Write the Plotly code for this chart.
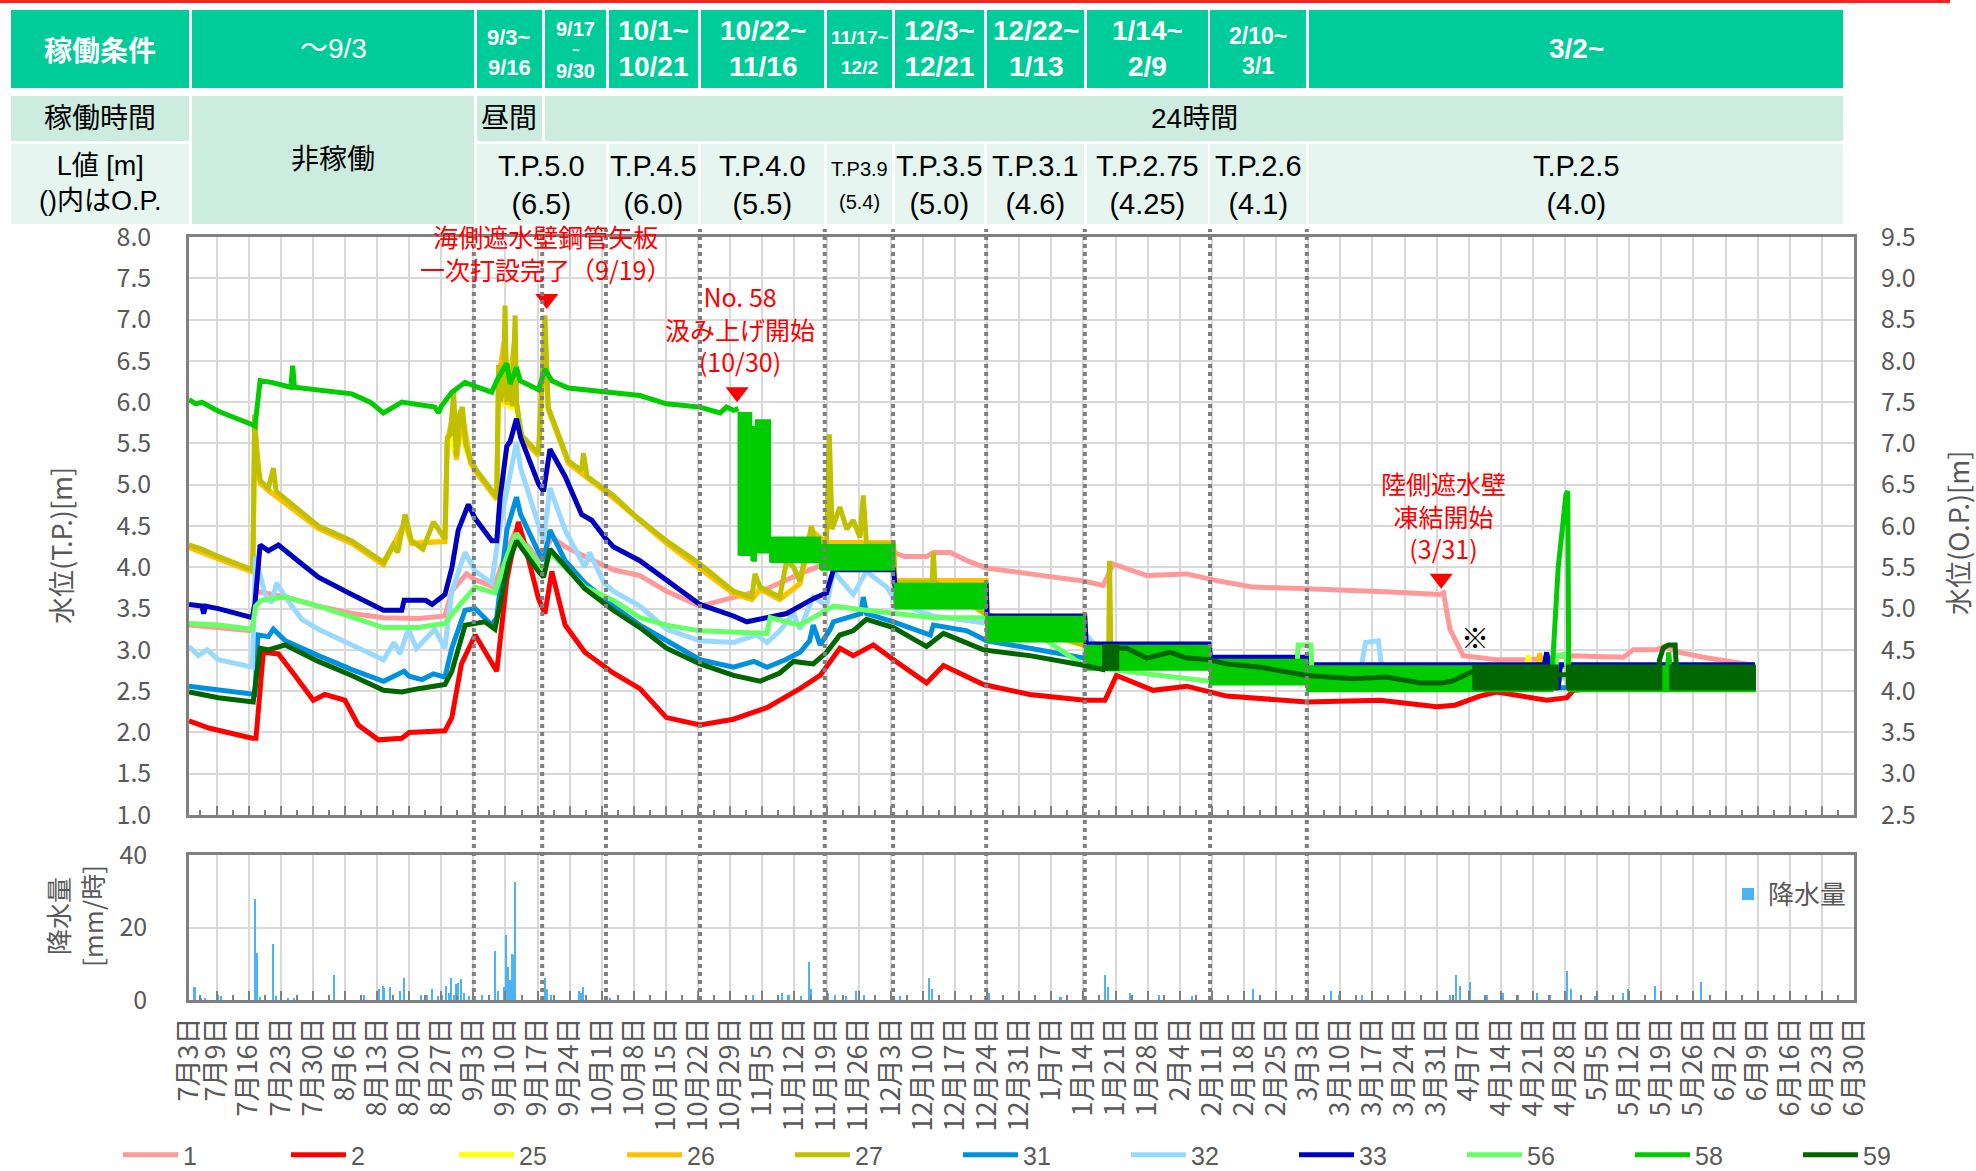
import pandas as pd
import plotly.graph_objects as go

W, H = 1976, 1171
T0 = pd.Timestamp("2015-07-03")
X_END = pd.Timestamp("2016-06-30")

# ---------------------------------------------------------------------------
# Groundwater level series (T.P. m).  x = days elapsed since 2015-07-03.
# ---------------------------------------------------------------------------
S1_DAY = [0, 7, 13.8, 14.6, 17, 21, 28.2, 35.5, 42.4, 50, 55.8, 57.3, 60.5, 62.4, 66.5, 69.3, 71, 74, 76.2, 77.4,
          79.1, 82, 86.3, 92.5, 98.3, 104.1, 111.4, 118.7, 126, 133.2, 139, 146, 153.6, 156, 160.8, 162.3, 166, 169.6,
          173.9, 183.3, 195.3, 199.3, 201.5, 208.8, 217.5, 224.8, 232, 243.7, 253.8, 262, 272.7, 273.5, 274.9, 277.8,
          285.1, 292.3, 301, 312.7, 314.9, 320, 321.4, 325, 330.1, 335.9, 341.4]
S1_VAL = [3.30, 3.27, 3.23, 3.71, 3.68, 3.64, 3.53, 3.44, 3.39, 3.38, 3.41, 3.71, 3.92, 3.85, 3.76, 4.2, 4.42, 4.25,
          4.08, 4.18, 4.36, 4.25, 4.13, 3.97, 3.90, 3.71, 3.53, 3.64, 3.74, 3.92, 4.05, 4.15, 4.18, 4.13, 4.13, 4.18,
          4.18, 4.08, 3.99, 3.92, 3.83, 3.78, 4.04, 3.90, 3.92, 3.83, 3.76, 3.74, 3.71, 3.70, 3.67, 3.69, 3.25, 2.93,
          2.88, 2.88, 2.93, 2.91, 3.00, 3.00, 3.04, 2.97, 2.91, 2.86, 2.81]

S2_DAY = [0, 2.8, 4.5, 13.8, 14.6, 16.2, 19.5, 23.1, 27.1, 29.6, 34, 36.9, 41.3, 46.4, 48, 55.8, 57.3, 59.4, 62.4,
          67.1, 69.3, 71.8, 73, 76.2, 77.6, 79.1, 82, 86.3, 92.5, 98.3, 104.1, 111.4, 118.7, 126, 133.2, 137.6, 141.9,
          144.8, 149.2, 153.6, 160.8, 164.5, 173.2, 183.3, 195.3, 199.7, 202.2, 210.2, 217.5, 226.2, 243.7, 259.7,
          272, 276, 281.4, 285.1, 290.9, 296, 300.4, 301.8, 310, 341.4]
S2_VAL = [2.14, 2.09, 2.05, 1.93, 1.93, 2.97, 2.95, 2.69, 2.39, 2.46, 2.39, 2.09, 1.91, 1.93, 2.0, 2.02, 2.18, 2.83,
          3.18, 2.74, 3.85, 4.55, 4.32, 3.62, 3.44, 3.95, 3.30, 2.97, 2.72, 2.53, 2.18, 2.09, 2.16, 2.30, 2.53, 2.69,
          3.02, 2.93, 3.06, 2.88, 2.60, 2.81, 2.58, 2.46, 2.39, 2.39, 2.69, 2.51, 2.56, 2.44, 2.37, 2.39, 2.31, 2.33,
          2.44, 2.49, 2.44, 2.39, 2.42, 2.51, 2.55, 2.55]

S25_DAY = [0, 6.4, 13.9, 14.4, 15.5, 17.3, 28.2, 35.5, 42.4, 47.1, 48.5, 55.8, 56.3, 57.0, 58.3, 59.0, 60.3, 61.4, 63,
           67.1, 67.5, 68.0, 69.3, 70.5, 71.4, 72.5, 76.2, 77.6, 78.3, 82.7, 92.5, 104.1, 118.7, 122.7, 124.5, 128.8,
           133.2, 135.7, 139.0, 147.7, 153.6, 153.9, 173.8, 174.0, 195.3, 222.4, 243.7, 291.6, 292.0, 292.5, 341.4]
S25_VAL = [4.25, 4.11, 3.95, 5.6, 5.03, 4.94, 4.48, 4.30, 4.04, 4.5, 4.30, 4.32, 5.5, 5.58, 5.32, 5.8, 5.45, 5.27,
           5.13, 4.83, 6.35, 5.98, 5.98, 5.93, 5.98, 5.58, 5.36, 6.8, 5.92, 5.27, 4.85, 4.30, 3.69, 3.62, 3.74, 3.62,
           3.81, 4.45, 4.28, 4.27, 4.27, 3.81, 3.81, 3.41, 3.05, 2.87, 2.80, 2.80, 2.93, 2.80, 2.80]

S26_DAY = [0, 6.4, 13.9, 14.4, 15.5, 17.3, 28.2, 35.5, 42.4, 47.1, 48.5, 55.8, 56.3, 57.7, 58.3, 59.6, 61.4, 63, 67.1,
           67.5, 68.9, 69.3, 71.1, 71.4, 72.5, 76.2, 77.6, 78.3, 82.7, 92.5, 104.1, 118.7, 122.7, 124.5, 128.8, 133.2,
           135.7, 139.0, 147.7, 153.6, 153.9, 173.8, 174.0, 195.3, 222.4, 243.7, 294.0, 294.5, 295.0, 341.4]
S26_VAL = [4.24, 4.10, 3.94, 5.7, 5.02, 4.93, 4.47, 4.29, 4.03, 4.55, 4.29, 4.31, 5.52, 5.9, 5.30, 5.85, 5.26, 5.12,
           4.82, 6.3, 6.8, 5.97, 6.8, 5.97, 5.57, 5.35, 6.9, 5.91, 5.26, 4.84, 4.29, 3.68, 3.61, 3.73, 3.61, 3.80, 4.44,
           4.30, 4.30, 4.30, 3.84, 3.84, 3.43, 3.06, 2.88, 2.80, 2.80, 2.96, 2.80, 2.80]

S27_DAY = [0, 2.8, 6.4, 13.9, 14.3, 14.8, 15.5, 17.3, 18.4, 19.0, 28.2, 35.5, 42.4, 43.5, 44.5, 45.5, 47.1, 48.5, 51,
           53.3, 55.8, 56.3, 57.0, 57.7, 58.3, 59.0, 59.6, 60.3, 61.4, 63, 67.1, 67.5, 68.0, 68.6, 68.9, 69.3, 69.8,
           70.5, 71.1, 71.4, 72.5, 76.2, 77.6, 78.3, 82.7, 85.6, 86.0, 86.8, 92.5, 96.9, 104.1, 111.4, 118.7, 122.7,
           123.4, 124.5, 128.8, 130.3, 131.8, 133.2, 134.7, 135.7, 136.6, 139.0, 139.6, 140.2, 141.9, 143.4, 144.8,
           146.3, 147.0, 147.7, 153.6, 153.9, 162.0, 162.3, 162.6, 173.8, 174.0, 195.3, 200.5, 200.7, 201.0, 222.4,
           243.7, 341.4]
S27_VAL = [4.27, 4.22, 4.13, 3.97, 5.85, 5.29, 5.05, 4.96, 5.20, 4.92, 4.50, 4.32, 4.06, 4.18, 4.27, 4.18, 4.64,
           4.32, 4.22, 4.55, 4.34, 5.57, 5.61, 6.12, 5.34, 5.85, 5.94, 5.5, 5.29, 5.15, 4.85, 6.45, 6.0, 6.3, 7.17,
           6.0, 6.3, 5.95, 7.05, 6.0, 5.6, 5.38, 7.05, 5.94, 5.29, 5.17, 5.38, 5.10, 4.87, 4.64, 4.32, 4.04, 3.71,
           3.64, 3.92, 3.76, 3.64, 4.08, 4.0, 3.83, 4.22, 4.50, 4.30, 4.30, 5.61, 4.46, 4.73, 4.46, 4.57, 4.36, 4.87,
           4.28, 4.28, 3.82, 3.82, 4.18, 3.82, 3.42, 3.42, 3.05, 2.95, 4.08, 2.95, 2.88, 2.80, 2.80]

S31_DAY = [0, 6.4, 13.8, 14.4, 15.0, 17.3, 18.4, 21, 28.2, 35.5, 42.4, 44.3, 46.9, 48, 50.8, 53.3, 55.8, 57.3, 60.2,
           62.4, 66.0, 67.1, 69.3, 71.4, 72.3, 76.2, 77.3, 78.7, 82.0, 86.3, 92.5, 98.3, 104.1, 111.4, 118.7, 123.2,
           126.0, 130.0, 133.2, 135.3, 136.1, 137.6, 139.8, 140.5, 146.5, 147.0, 147.7, 153.6, 161.6, 162.3, 169.6,
           173.9, 183.3, 195.3, 210, 222.4, 243.7, 270, 341.4]
S31_VAL = [2.56, 2.51, 2.46, 2.46, 3.18, 3.16, 3.25, 3.11, 2.93, 2.76, 2.62, 2.67, 2.74, 2.68, 2.64, 2.71, 2.67, 3.02,
           3.48, 3.50, 3.30, 3.39, 4.45, 4.85, 4.64, 4.18, 4.08, 4.45, 4.08, 3.81, 3.53, 3.30, 3.11, 2.88, 2.79, 2.86,
           2.79, 2.88, 2.97, 3.11, 3.30, 3.06, 3.25, 3.34, 3.44, 3.64, 3.44, 3.34, 3.18, 3.30, 3.23, 3.11, 3.02, 2.90,
           2.85, 2.78, 2.62, 2.55, 2.53]

S32_DAY = [0, 2, 4, 6.4, 13.8, 14.5, 16.6, 18.0, 19.1, 21, 24.6, 28.2, 35.5, 42.4, 44.7, 46.0, 47.8, 49.6, 53.6, 55.8,
           57.3, 60.2, 62.4, 66.0, 67.8, 69.6, 71.4, 72.3, 76.2, 77.3, 78.7, 82.0, 86.3, 87.3, 90.5, 92.5, 98.3, 104.1,
           111.4, 118.7, 123.8, 126.0, 128.8, 131.8, 133.2, 136.1, 139.0, 140.5, 144.8, 147.7, 152.1, 154.3, 162.3,
           173.2, 183.3, 195.3, 200, 222.4, 243.7, 255.6, 256.5, 259.3, 260.0, 270, 341.4]
S32_VAL = [3.04, 2.93, 3.0, 2.88, 2.79, 4.13, 3.67, 3.57, 3.81, 3.64, 3.37, 3.25, 3.06, 2.88, 3.09, 2.95, 3.25, 3.02,
           3.25, 3.02, 3.71, 4.18, 3.95, 3.81, 4.50, 5.01, 5.52, 5.20, 4.55, 4.32, 4.96, 4.45, 4.00, 4.18, 3.81, 3.71,
           3.53, 3.25, 3.11, 3.09, 3.18, 3.09, 3.23, 3.44, 3.25, 3.64, 3.53, 3.95, 3.67, 3.95, 3.76, 3.57, 3.41, 3.32,
           3.25, 3.20, 2.90, 2.80, 2.75, 2.80, 3.09, 3.11, 2.80, 2.70, 2.60]

S33_DAY = [0, 2.8, 3.2, 3.6, 6.4, 13.8, 14.4, 15.5, 17.3, 19.5, 24.6, 28.2, 35.5, 42.4, 46.4, 46.9, 51.6, 53.0, 55.8,
           57.3, 58.7, 60.9, 62.4, 66.0, 67.1, 67.8, 69.3, 70.0, 71.4, 72.3, 76.2, 77.3, 78.7, 82.0, 85.6, 87.8, 90.7,
           92.5, 98.3, 104.1, 111.4, 118.7, 121.6, 126.0, 130.3, 136.1, 139.0, 140.5, 153.6, 153.9, 173.8, 174.0,
           195.3, 195.6, 222.4, 222.7, 243.7, 244.0, 295.5, 296.0, 296.5, 298.2, 298.5, 299.0, 341.4]
S33_VAL = [3.55, 3.53, 3.44, 3.53, 3.50, 3.39, 3.57, 4.27, 4.20, 4.27, 4.04, 3.88, 3.67, 3.48, 3.48, 3.60, 3.60,
           3.55, 3.67, 3.99, 4.45, 4.76, 4.59, 4.32, 4.32, 4.83, 5.47, 5.52, 5.80, 5.57, 5.01, 4.92, 5.43, 5.10, 4.64,
           4.57, 4.36, 4.25, 4.08, 3.85, 3.55, 3.41, 3.34, 3.39, 3.44, 3.62, 3.69, 3.97, 3.97, 3.78, 3.78, 3.41, 3.41,
           3.07, 3.07, 2.91, 2.91, 2.82, 2.82, 2.97, 2.82, 2.82, 2.52, 2.82, 2.82]

S56_DAY = [0, 6.4, 13.8, 14.5, 15.8, 21, 28.2, 35.5, 42.4, 50, 55.8, 59.4, 62.4, 66.7, 69.3, 71.4, 76.2, 77.3, 78.7,
           86.3, 92.5, 98.3, 104.1, 111.4, 126.0, 126.7, 133.2, 140.5, 147.7, 153.6, 162.3, 173.2, 183.3, 195.3, 222.4,
           241.5, 241.8, 244.6, 244.9, 270, 297.8, 298.2, 300.2, 300.6, 341.4]
S56_VAL = [3.32, 3.30, 3.25, 3.53, 3.60, 3.64, 3.53, 3.39, 3.27, 3.27, 3.32, 3.57, 3.76, 3.69, 4.13, 4.41, 4.04, 3.95,
           4.18, 3.76, 3.60, 3.39, 3.30, 3.23, 3.20, 3.39, 3.30, 3.53, 3.48, 3.44, 3.39, 3.39, 3.25, 2.80, 2.62, 2.65,
           3.06, 3.06, 2.60, 2.55, 2.60, 2.93, 2.95, 2.60, 2.55]

S58_DAY = [0, 1.5, 2.8, 6.4, 13.7, 14.4, 15.5, 18, 22.2, 22.6, 23.0, 28.2, 35.5, 39.5, 42.4, 46.4, 53.6, 54.4, 55.0,
           57.3, 60.2, 62.4, 66.0, 67.1, 69.3, 70.0, 71.4, 72.2, 76.2, 77.6, 79.1, 82.7, 90.7, 98.3, 104.1, 111.4,
           115.8, 117.2, 118.7, 119.8]
S58_VAL = [6.03, 5.98, 6.00, 5.89, 5.73, 5.71, 6.26, 6.24, 6.18, 6.44, 6.18, 6.15, 6.10, 6.00, 5.87, 6.00, 5.94, 5.87,
           5.95, 6.12, 6.24, 6.19, 6.12, 6.26, 6.47, 6.22, 6.42, 6.26, 6.15, 6.40, 6.26, 6.17, 6.12, 6.08, 5.98, 5.94,
           5.87, 5.94, 5.90, 5.92]
# No.58 after pumping starts: hourly cycling shown as its min/max envelope
B58_START = [119.8, 122.6, 123.6, 126.7, 137.6, 153.8, 173.8, 195.3, 222.6, 243.7, 300.8]
B58_END = [122.6, 123.6, 126.7, 137.6, 153.8, 173.8, 195.3, 222.6, 243.7, 297.2, 341.4]
B58_LO = [4.15, 4.08, 4.18, 4.06, 3.97, 3.50, 3.10, 2.76, 2.58, 2.50, 2.50]
B58_HI = [5.87, 5.70, 5.78, 4.36, 4.27, 3.80, 3.40, 3.05, 2.88, 2.80, 2.80]
S58_SPIKE_DAY = [297.2, 297.4, 298.5, 299.6, 300.2, 300.6, 300.8, None, 322.4, 322.6, 322.9]
S58_SPIKE_VAL = [2.80, 2.93, 3.99, 4.65, 4.88, 4.92, 2.80, None, 2.80, 2.97, 2.80]

S59_DAY = [0, 6.4, 14.0, 15.5, 17.3, 21.0, 28.2, 35.5, 42.4, 46.4, 50, 55.8, 57.3, 60.2, 64.5, 66.7, 69.6, 71.4, 76.2,
           77.3, 78.7, 86.3, 92.5, 98.3, 104.1, 111.4, 118.7, 124.5, 128.8, 131.8, 136.1, 139.0, 141.9, 144.8, 147.7,
           153.6, 160.8, 164.5, 173.2, 183.3, 195.3, 199.3, 200.8, 204.4, 208.8, 213.9, 217.5, 222.4, 226.2, 233.5,
           243.7, 253.8, 261.1, 268.4, 273.0, 275.3, 280.0, 297.0, 320.3, 320.6, 321.4, 322.5, 324.0, 324.3, 341.4]
S59_VAL = [2.49, 2.42, 2.37, 3.02, 3.0, 3.06, 2.86, 2.69, 2.51, 2.49, 2.53, 2.58, 2.74, 3.30, 3.34, 3.25, 4.04, 4.32,
           3.95, 3.88, 4.22, 3.74, 3.48, 3.27, 3.02, 2.83, 2.69, 2.62, 2.72, 2.86, 2.83, 2.97, 3.18, 3.23, 3.37, 3.27,
           3.04, 3.20, 3.00, 2.93, 2.81, 2.76, 3.02, 3.02, 2.90, 2.97, 2.90, 2.88, 2.83, 2.79, 2.69, 2.65, 2.67, 2.60,
           2.60, 2.62, 2.74, 2.70, 2.70, 2.88, 3.02, 3.06, 3.06, 2.75, 2.70]
B59_START = [199.3, 280.0, 300.4, 322.9]
B59_END = [202.6, 298.4, 321.0, 341.4]
B59_LO = [2.76, 2.52, 2.52, 2.52]
B59_HI = [3.06, 2.81, 2.81, 2.81]

# Hourly precipitation (mm/h)
RAIN_DAY = [1.2, 2.5, 3.5, 6.3, 7.0, 14.4, 14.8, 15.5, 18.3, 18.9, 21.5, 22.8, 31.7, 38.2, 41.5, 42.2, 42.6, 43.8,
            46.0, 46.8, 50.6, 51.8, 53.0, 54.2, 55.2, 56.0, 56.6, 57.2, 57.8, 58.3, 58.7, 59.3, 60.0, 61.0, 62.0,
            63.8, 66.8, 67.3, 68.7, 69.1, 69.5, 70.0, 70.5, 70.8, 71.1, 77.7, 78.1, 78.9, 85.0, 85.5, 86.0, 91.7,
            122.9, 129.2, 130.7, 133.5, 135.1, 135.5, 139.4, 140.8, 143.3, 145.5, 147.2, 155.0, 161.4, 162.0, 174.4,
            190.0, 195.3, 199.7, 200.3, 205.1, 211.5, 218.7, 226.5, 232.0, 249.0, 250.7, 255.8, 275.0, 276.3, 277.0,
            279.3, 283.0, 286.4, 289.7, 293.9, 296.7, 300.4, 301.3, 306.5, 312.6, 313.7, 319.7, 329.7]
RAIN_MM = [3.5, 0.6, 0.5, 1.5, 1.2, 28.0, 13.0, 0.8, 15.5, 1.0, 0.6, 0.5, 7.0, 1.5, 3.0, 4.0, 3.2, 3.7,
           2.5, 6.0, 1.5, 1.5, 3.0, 1.2, 1.5, 4.0, 2.0, 6.0, 1.5, 4.4, 4.6, 5.7, 2.0, 1.0, 0.5,
           1.5, 13.6, 2.5, 3.7, 18.0, 9.0, 5.5, 12.7, 12.5, 32.6, 6.0, 3.0, 1.5, 2.5, 2.0, 3.5, 0.5,
           1.5, 2.0, 1.5, 1.0, 10.4, 3.0, 2.0, 1.5, 1.0, 2.5, 1.5, 1.0, 6.0, 3.0, 2.0,
           0.8, 1.0, 7.0, 3.5, 2.0, 1.5, 1.0, 1.0, 3.0, 2.5, 1.5, 1.5, 1.5, 7.0, 4.0,
           5.0, 1.5, 2.0, 1.5, 2.0, 1.5, 8.0, 3.0, 1.0, 2.0, 3.0, 4.0, 5.0]

# Date axis labels (weekly)
TICK_LABELS = ["7月3日", "7月9日", "7月16日", "7月23日", "7月30日", "8月6日", "8月13日", "8月20日", "8月27日",
               "9月3日", "9月10日", "9月17日", "9月24日", "10月1日", "10月8日", "10月15日", "10月22日", "10月29日",
               "11月5日", "11月12日", "11月19日", "11月26日", "12月3日", "12月10日", "12月17日", "12月24日",
               "12月31日", "1月7日", "1月14日", "1月21日", "1月28日", "2月4日", "2月11日", "2月18日", "2月25日",
               "3月3日", "3月10日", "3月17日", "3月24日", "3月31日", "4月7日", "4月14日", "4月21日", "4月28日",
               "5月5日", "5月12日", "5月19日", "5月26日", "6月2日", "6月9日", "6月16日", "6月23日", "6月30日"]

# Boundaries between operating periods (days since start)
BOUNDARY_DAY = [62.1, 77.0, 90.9, 111.4, 138.6, 153.5, 173.8, 195.3, 222.6, 243.7]

# Operating-condition table
PERIODS = [["～9/3"], ["9/3~", "9/16"], ["9/17", "~", "9/30"], ["10/1~", "10/21"], ["10/22~", "11/16"],
           ["11/17~", "12/2"], ["12/3~", "12/21"], ["12/22~", "1/13"], ["1/14~", "2/9"], ["2/10~", "3/1"], ["3/2~"]]
L_TP = ["T.P.5.0", "T.P.4.5", "T.P.4.0", "T.P3.9", "T.P.3.5", "T.P.3.1", "T.P.2.75", "T.P.2.6", "T.P.2.5"]
L_OP = ["(6.5)", "(6.0)", "(5.5)", "(5.4)", "(5.0)", "(4.6)", "(4.25)", "(4.1)", "(4.0)"]

# Events marked on the chart
EVENT_DAY = [78.0, 119.5, 273.0]
EVENT_LEVEL = [7.25, 6.12, 3.86]
EVENT_TEXT = [["海側遮水壁鋼管矢板", "一次打設完了（9/19）"], ["No. 58", "汲み上げ開始", "(10/30)"],
              ["陸側遮水壁", "凍結開始", "(3/31)"]]

SERIES = [
    ("1", "#FF9999", S1_DAY, S1_VAL),
    ("2", "#FF0000", S2_DAY, S2_VAL),
    ("25", "#FFFF00", S25_DAY, S25_VAL),
    ("26", "#FFC000", S26_DAY, S26_VAL),
    ("27", "#C0C000", S27_DAY, S27_VAL),
    ("31", "#0090E0", S31_DAY, S31_VAL),
    ("32", "#99D9FF", S32_DAY, S32_VAL),
    ("33", "#0000C0", S33_DAY, S33_VAL),
    ("56", "#66FF66", S56_DAY, S56_VAL),
    ("58", "#00CC00", S58_DAY, S58_VAL),
    ("59", "#006600", S59_DAY, S59_VAL),
]
BANDS = {"58": (B58_START, B58_END, B58_LO, B58_HI), "59": (B59_START, B59_END, B59_LO, B59_HI)}

# ---------------------------------------------------------------------------
FONT = "Noto Sans CJK JP, Noto Sans, sans-serif"
NARROW = "Liberation Sans Narrow, Arial Narrow, Liberation Sans, Noto Sans CJK JP, sans-serif"
GREY_TXT = "#595959"
AX = "#808080"
GRID = "#D9D9D9"
LW = 5

# plot-area frame in pixels
PL, PR = 189, 1854
MAIN_T, MAIN_B = 237, 815
RAIN_T, RAIN_B = 855, 1000


def at(days):
    return [None if d is None else T0 + pd.Timedelta(days=d) for d in days]


def label_date(lbl):
    m, rest = lbl.split("月")
    m, d = int(m), int(rest.rstrip("日"))
    return pd.Timestamp(year=2015 if m >= 7 else 2016, month=m, day=d)


def fx(x):
    return x / W


def fy(y):
    return 1 - y / H


TICK_POS = [label_date(t) for t in TICK_LABELS]

fig = go.Figure()

for name, color, days, vals in SERIES:
    fig.add_trace(go.Scatter(x=at(days), y=vals, mode="lines", name=name, legendgroup=name,
                             line=dict(color=color, width=LW), hoverinfo="skip"))
    if name in BANDS:
        st, en, lo, hi = BANDS[name]
        bx, by = [], []
        for s, e, l, h in zip(st, en, lo, hi):
            bx += [s, e, e, s, s, None]
            by += [l, l, h, h, l, None]
        fig.add_trace(go.Scatter(x=at(bx), y=by, mode="lines", fill="toself", fillcolor=color,
                                 line=dict(color=color, width=2), legendgroup=name, showlegend=False,
                                 hoverinfo="skip"))
    if name == "58":
        fig.add_trace(go.Scatter(x=at(S58_SPIKE_DAY), y=S58_SPIKE_VAL, mode="lines",
                                 line=dict(color=color, width=LW), legendgroup=name, showlegend=False,
                                 hoverinfo="skip"))

# event markers
fig.add_trace(go.Scatter(x=at(EVENT_DAY), y=EVENT_LEVEL, mode="markers", showlegend=False, hoverinfo="skip",
                         marker=dict(symbol="triangle-down", size=20, color="#FF0000")))

# right-hand O.P. axis
fig.add_trace(go.Scatter(x=[T0], y=[2.5], yaxis="y2", mode="markers", marker=dict(opacity=0),
                         showlegend=False, hoverinfo="skip"))

# precipitation
fig.add_trace(go.Bar(x=at(RAIN_DAY), y=RAIN_MM, name="降水量", xaxis="x2", yaxis="y3", legend="legend2",
                     width=0.45 * 86400000, marker=dict(color="#4DB3F5", line=dict(width=0)),
                     hoverinfo="skip"))

shapes = []
# red rule along the top edge
shapes.append(dict(type="rect", xref="paper", yref="paper", x0=0, x1=fx(1950), y0=fy(3), y1=1,
                   fillcolor="#FF2020", line=dict(width=0), layer="below"))

TEAL, MINT, PALE = "#00CC99", "#CCECE0", "#E6F5EF"
R1, R2, R3 = (10, 88), (96, 141), (144, 224)
ROW1_COLS = [(11, 189), (192, 474), (477, 542), (545, 606), (609, 698), (701, 824), (827, 892), (895, 984),
             (987, 1084), (1087, 1208), (1210, 1306), (1309, 1843)]
ROW3_COLS = [(477, 606), (609, 698), (701, 824), (827, 892), (895, 984), (987, 1084), (1087, 1208), (1210, 1306),
             (1309, 1843)]


def cell(x0, x1, y0, y1, color):
    shapes.append(dict(type="rect", xref="paper", yref="paper", x0=fx(x0), x1=fx(x1), y0=fy(y1), y1=fy(y0),
                       fillcolor=color, line=dict(width=0), layer="below"))


for x0, x1 in ROW1_COLS:
    cell(x0, x1, *R1, TEAL)
cell(11, 189, *R2, MINT)
cell(192, 474, R2[0], R3[1], MINT)
cell(477, 542, *R2, MINT)
cell(545, 1843, *R2, MINT)
cell(11, 189, *R3, PALE)
for x0, x1 in ROW3_COLS:
    cell(x0, x1, *R3, PALE)

# period boundaries
for d in BOUNDARY_DAY:
    t = T0 + pd.Timedelta(days=d)
    shapes.append(dict(type="line", xref="x", yref="paper", x0=t, x1=t, y0=fy(RAIN_B), y1=fy(229),
                       line=dict(color="#7F7F7F", width=4, dash="4px,4px"), layer="above"))

annotations = []


def put(cx, cy, text, size, color="black", bold=False, family=NARROW, angle=0):
    annotations.append(dict(x=fx(cx), y=fy(cy), xref="paper", yref="paper", showarrow=False,
                            text=f"<b>{text}</b>" if bold else text, textangle=angle,
                            font=dict(size=size, color=color, family=family),
                            xanchor="center", yanchor="middle"))


def text_lines(cx, cy, lines, size, color="black", bold=False, pitch=None, family=NARROW, angle=0):
    """Centred block of lines; one text box when the lines would otherwise touch."""
    pitch = pitch or size * 1.3
    if len(lines) > 1 and size * 1.32 > pitch:
        put(cx, cy, "<br>".join(lines), size, color, bold, family, angle)
        return
    n = len(lines)
    for i, ln in enumerate(lines):
        put(cx, cy + (i - (n - 1) / 2) * pitch, ln, size, color, bold, family, angle)


# table row 1
text_lines(100, 49, ["稼働条件"], 28, "white", bold=True, family=FONT)
row1_style = [(28, False, 30, 49), (22, True, 30, 52), None, (28, True, 30, 49), (28, True, 30, 49),
              (19, True, 30, 52), (28, True, 30, 49), (28, True, 30, 49), (28, True, 30, 49), (23, True, 30, 51),
              (28, True, 30, 49)]
for (x0, x1), lines, style in zip(ROW1_COLS[1:], PERIODS, row1_style):
    cx = (x0 + x1) / 2
    if style is None:
        # stacked "9/17 ~ 9/30"
        put(cx, 29, lines[0], 20, "white", bold=True)
        put(cx, 51, lines[1], 13, "white", bold=True)
        put(cx, 71, lines[2], 20, "white", bold=True)
        continue
    sz, bd, pt, cy = style
    text_lines(cx, cy, lines, sz, "white", bold=bd, pitch=pt)
# table row 2
text_lines(100, 118, ["稼働時間"], 28)
text_lines(333, 159, ["非稼働"], 28)
text_lines(509, 118, ["昼間"], 28)
text_lines(1194, 118, ["24時間"], 28)
# table row 3
text_lines(100, 184, ["L値 [m]", "()内はO.P."], 27, pitch=31)
for (x0, x1), tp, op in zip(ROW3_COLS, L_TP, L_OP):
    sz = 20 if tp == "T.P3.9" else 29
    text_lines((x0 + x1) / 2, 185, [tp, op], sz, pitch=33)

# axis titles
put(60, 546, "水位(T.P.)[m]", 27, GREY_TXT, family=FONT, angle=-90)
put(1957, 533, "水位(O.P.)[m]", 27, GREY_TXT, family=FONT, angle=-90)
put(57, 916, "降水量", 26, GREY_TXT, family=FONT, angle=-90)
put(91, 916, "[mm/時]", 26, GREY_TXT, family=FONT, angle=-90)

# event notes
for (cx, cy), lines in zip([(545, 252), (740, 328), (1443, 515)], EVENT_TEXT):
    text_lines(cx, cy, lines, 25, "#FF0000", family=FONT, pitch=31.5)
put(1475, 637, "※", 28, "black", family=FONT)

axis_common = dict(showline=True, linecolor=AX, linewidth=2.5, mirror=True, zeroline=False,
                   tickfont=dict(size=25, color=GREY_TXT, family=FONT))
xdom = [fx(PL), fx(PR)]
minor_x = dict(ticks="inside", ticklen=5, tickcolor=AX, tickwidth=1.5, dtick=3.5 * 86400000,
               tick0="2015-07-09", showgrid=False)

fig.update_layout(
    width=W, height=H, margin=dict(l=0, r=0, t=0, b=0, pad=0, autoexpand=False),
    paper_bgcolor="white", plot_bgcolor="white",
    font=dict(family=FONT, color=GREY_TXT),
    shapes=shapes, annotations=annotations,
    xaxis=dict(domain=xdom, anchor="y", type="date", range=[T0, X_END], tickmode="array", tickvals=TICK_POS,
               showticklabels=False, ticks="inside", ticklen=9, tickcolor=AX, tickwidth=1.5,
               showgrid=True, gridcolor=GRID, gridwidth=2, minor=minor_x, **axis_common),
    yaxis=dict(domain=[fy(MAIN_B), fy(MAIN_T)], anchor="x", range=[1, 8], dtick=0.5, tickformat=".1f",
               showgrid=True, gridcolor=GRID, gridwidth=2, ticks="", ticklabelstandoff=30, **axis_common),
    yaxis2=dict(overlaying="y", side="right", anchor="x", range=[2.5, 9.5], dtick=0.5, tickformat=".1f",
                showgrid=False, showline=False, zeroline=False, ticks="", ticklabelstandoff=26,
                tickfont=dict(size=25, color=GREY_TXT, family=FONT)),
    xaxis2=dict(domain=xdom, anchor="y3", type="date", range=[T0, X_END], tickmode="array", tickvals=TICK_POS,
                ticktext=TICK_LABELS, tickangle=-90, ticks="inside", ticklen=9, tickcolor=AX, tickwidth=1.5,
                showgrid=True, gridcolor=GRID, gridwidth=2, minor=minor_x, ticklabelstandoff=4,
                **{**axis_common, "tickfont": dict(size=27, color=GREY_TXT, family=FONT)}),
    yaxis3=dict(domain=[fy(RAIN_B), fy(RAIN_T)], anchor="x2", range=[0, 40], dtick=20, showgrid=True,
                gridcolor=GRID, gridwidth=2, ticks="", ticklabelstandoff=34, **axis_common),
    bargap=0,
    legend=dict(orientation="h", x=fx(118), y=-0.006, xanchor="left", yanchor="bottom",
                entrywidth=98, entrywidthmode="pixels", itemwidth=55, traceorder="normal",
                font=dict(size=25, color=GREY_TXT, family=NARROW), bgcolor="rgba(0,0,0,0)"),
    legend2=dict(x=fx(1728), y=fy(894), xanchor="left", yanchor="middle", itemwidth=30,
                 font=dict(size=26, color=GREY_TXT, family=FONT), bgcolor="rgba(0,0,0,0)"),
)

fig.write_html("out.html")
